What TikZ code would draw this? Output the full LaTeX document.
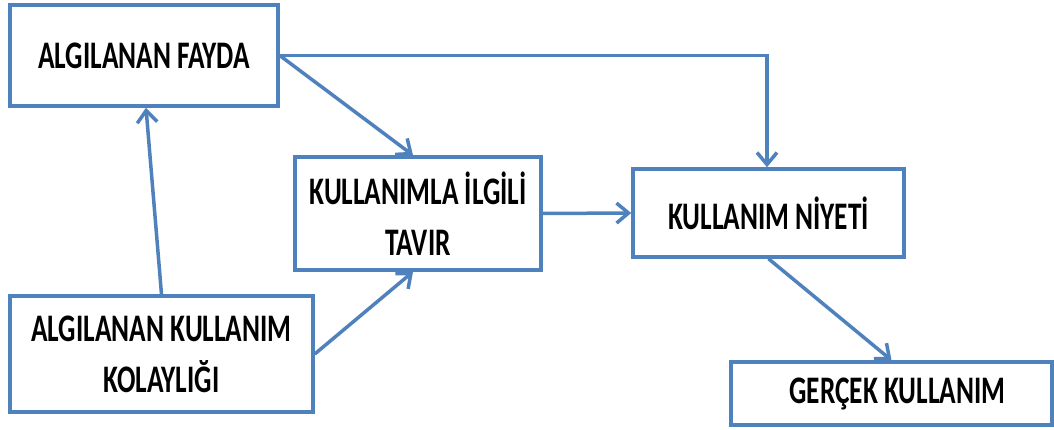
\documentclass[tikz,border=0pt]{standalone}
\usepackage{fontspec}
\setmainfont{Carlito}
\newfontfamily\boxfont[FakeStretch=0.7]{Carlito}
\usetikzlibrary{arrows.meta}
\definecolor{boxblue}{RGB}{79,129,189}
\begin{document}
\begin{tikzpicture}[x=1pt,y=-1pt,
  box/.style={draw=boxblue,line width=3.5pt,fill=white,inner sep=0pt,align=center,
    font=\boxfont\bfseries\fontsize{39}{51}\selectfont},
  arr/.style={draw=boxblue,line width=3.5pt,-{Straight Barb[length=12pt,width=20pt]}}]
\useasboundingbox (0,0) rectangle (1054,430);
\node[box,minimum width=268pt,minimum height=101pt] (A) at (144,55.5) {ALGILANAN FAYDA};
\node[box,minimum width=246pt,minimum height=113pt] (T) at (418,213.5) {KULLANIMLA İLGİLİ\\TAVIR};
\node[box,minimum width=271pt,minimum height=88pt] (N) at (768.5,213) {KULLANIM NİYETİ};
\node[box,minimum width=303pt,minimum height=116pt] (K) at (161.5,354) {ALGILANAN KULLANIM\\KOLAYLIĞI};
\node[box,minimum width=321pt,minimum height=63pt] (G) at (891.5,393.5) {\hspace{12pt}GERÇEK KULLANIM};
\draw[arr] (A.east) -| ([xshift=-1.5pt]N.north);
\draw[arr] (A.east) -- ([xshift=-5pt]T.north);
\draw[arr] (T.east) -- (N.west);
\draw[arr] (K.north) -- ([xshift=2pt]A.south);
\draw[arr] (K.east) -- ([xshift=-5pt]T.south);
\draw[arr] (N.south) -- (G.north);
\end{tikzpicture}
\end{document}
